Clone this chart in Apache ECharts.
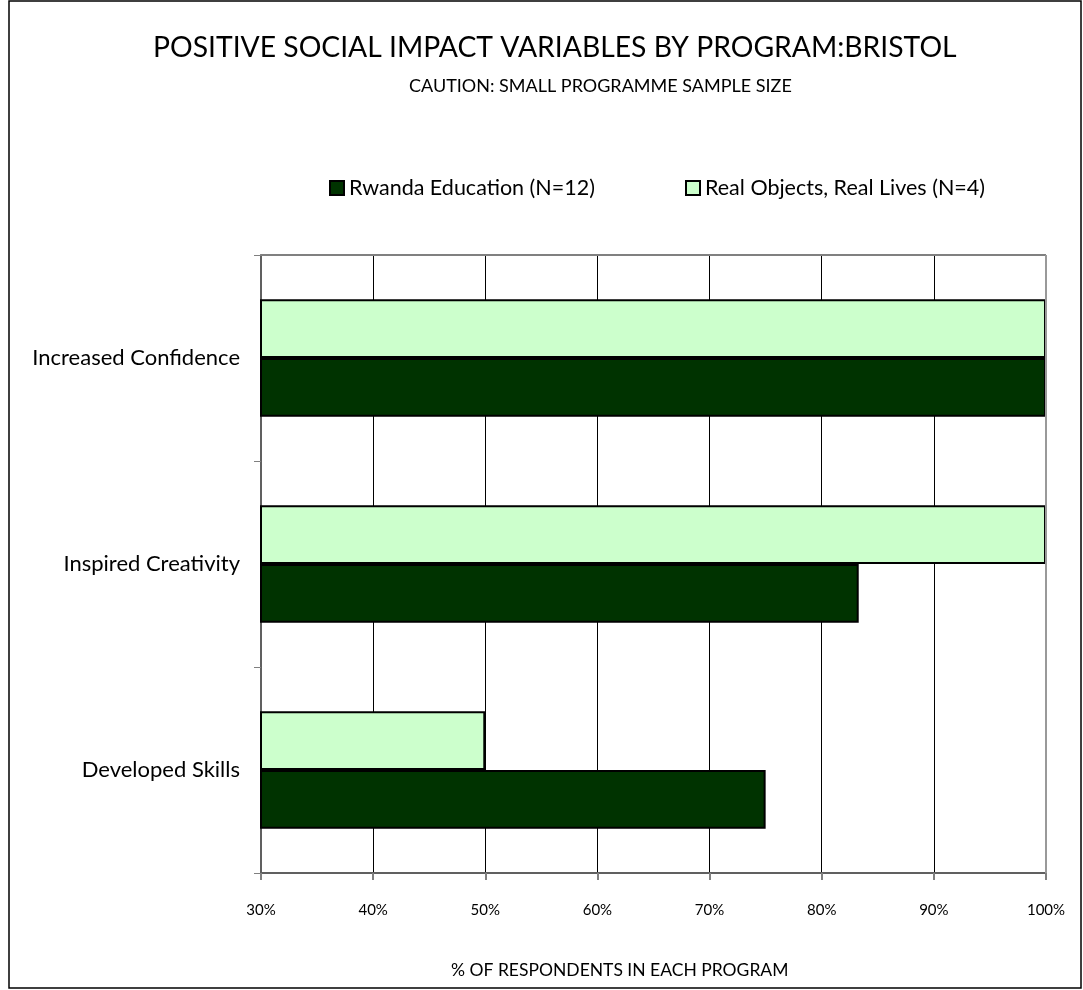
<!DOCTYPE html>
<html><head><meta charset="utf-8">
<script src="https://cdn.jsdelivr.net/npm/echarts@6/dist/echarts.min.js"></script>
<style>
html,body{margin:0;padding:0;background:#fff;}
#c{width:1083px;height:990px;}
</style></head><body>
<div id="c"></div>
<script>
const categories = ['Developed Skills', 'Inspired Creativity', 'Increased Confidence'];
const rwanda = [75, 83.3, 100];
const realObjects = [50, 100, 100];
const seriesNames = ['Rwanda Education (N=12)', 'Real Objects, Real Lives (N=4)'];
const xTicks = [30, 40, 50, 60, 70, 80, 90, 100];

const FONT = 'Lato, "Open Sans", sans-serif';
const chart = echarts.init(document.getElementById('c'));
const legendBase = {
  itemWidth: 14, itemHeight: 14, itemGap: 0,
  textStyle: { fontSize: 21.5, color: '#000', fontFamily: FONT, padding: [0, 0, 0, 0] }
};
chart.setOption({
  animation: false,
  backgroundColor: '#fff',
  textStyle: { fontFamily: FONT, color: '#000' },
  title: [
    { text: 'POSITIVE SOCIAL IMPACT VARIABLES BY PROGRAM:BRISTOL', left: 148, top: 29,
      textStyle: { fontSize: 28.3, fontWeight: 'normal', color: '#000', fontFamily: FONT } },
    { text: 'CAUTION: SMALL PROGRAMME SAMPLE SIZE', left: 404, top: 72,
      textStyle: { fontSize: 18, fontWeight: 'normal', color: '#000', fontFamily: FONT } },
    { text: '% OF RESPONDENTS IN EACH PROGRAM', left: 446, top: 956,
      textStyle: { fontSize: 17.5, fontWeight: 'normal', color: '#000', fontFamily: FONT } }
  ],
  legend: [
    Object.assign({ left: 324, top: 172, data: [{ name: seriesNames[0], icon: 'rect' }] }, legendBase),
    Object.assign({ left: 680, top: 172, data: [{ name: seriesNames[1], icon: 'rect' }] }, legendBase)
  ],
  grid: { left: 261, right: 37, top: 255, bottom: 117, containLabel: false },
  xAxis: {
    type: 'value', min: 30, max: 100, interval: 10,
    axisLine: { show: true, lineStyle: { color: '#606060', width: 2 } },
    axisTick: { show: true, length: 7, lineStyle: { color: '#808080', width: 2 } },
    axisLabel: { fontSize: 15, color: '#000', margin: 30, formatter: v => xTicks.includes(v) ? v + '%' : '' },
    splitLine: { show: true, lineStyle: { color: '#000', width: 1 } }
  },
  yAxis: {
    type: 'category', data: categories,
    axisLine: { show: true, lineStyle: { color: '#606060', width: 2 } },
    axisTick: { show: true, length: 7, lineStyle: { color: '#808080', width: 1 } },
    axisLabel: { fontSize: 22, color: '#000', margin: 21 },
    splitLine: { show: false }
  },
  series: [
    { name: seriesNames[1], type: 'bar', data: realObjects, barGap: '0%', barCategoryGap: '43%',
      itemStyle: { color: '#CCFFCC', borderColor: '#000', borderWidth: 2 } },
    { name: seriesNames[0], type: 'bar', data: rwanda, barGap: '0%', barCategoryGap: '43%',
      itemStyle: { color: '#003300', borderColor: '#000', borderWidth: 2 } }
  ],
  graphic: [
    { type: 'line', shape: { x1: 261, y1: 255, x2: 1046, y2: 255 }, style: { stroke: '#808080', lineWidth: 2 }, z: 10 },
    { type: 'line', shape: { x1: 1046, y1: 255, x2: 1046, y2: 873 }, style: { stroke: '#999', lineWidth: 2 }, z: 10 },
    { type: 'rect', shape: { x: 9, y: 1, width: 1072, height: 987 }, style: { fill: 'none', stroke: '#000', lineWidth: 1.5 }, z: 10, silent: true }
  ]
});
</script>
</body></html>
